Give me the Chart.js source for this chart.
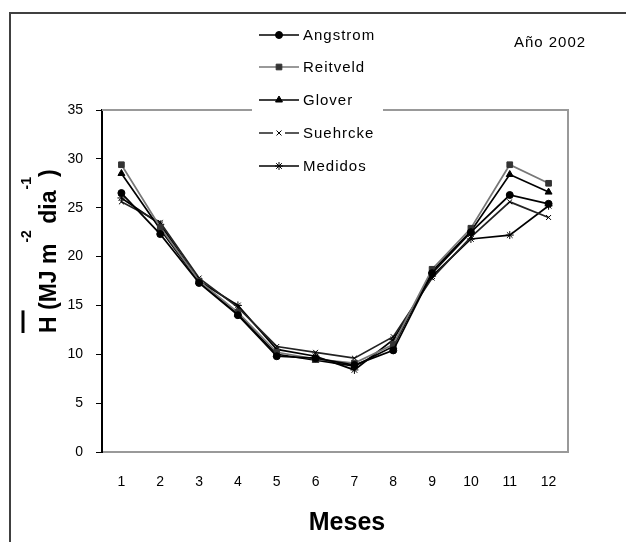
<!DOCTYPE html>
<html>
<head>
<meta charset="utf-8">
<script src="https://cdn.jsdelivr.net/npm/chart.js@4/dist/chart.umd.min.js"></script>
<style>
  html, body { margin: 0; padding: 0; background: #fff; }
  #wrap { width: 626px; height: 542px; }
</style>
</head>
<body>
<div id="wrap"><canvas id="chart" width="626" height="542"></canvas></div>
<script>
const meses = ["1", "2", "3", "4", "5", "6", "7", "8", "9", "10", "11", "12"];
const angstrom = [26.5, 22.3, 17.3, 14.0, 9.8, 9.6, 8.9, 10.4, 18.3, 22.5, 26.3, 25.4];
const reitveld = [29.4, 23.0, 17.5, 14.3, 10.2, 9.5, 9.1, 11.0, 18.7, 22.9, 29.4, 27.5];
const glover = [28.5, 22.8, 17.4, 14.1, 10.0, 9.4, 8.8, 10.8, 18.5, 22.6, 28.4, 26.6];
const suehrcke = [25.6, 23.5, 17.8, 14.8, 10.8, 10.2, 9.6, 11.8, 17.8, 22.0, 25.6, 24.0];
const medidos = [26.0, 23.3, 17.5, 15.0, 10.5, 9.8, 8.4, 11.5, 18.0, 21.8, 22.2, 25.2];
const yTicks = [0, 5, 10, 15, 20, 25, 30, 35];

const FONT = "'Liberation Sans', Arial, sans-serif";

function serie(label, data, color, lineColor, style, radius) {
  return {
    label, data,
    borderColor: lineColor,
    backgroundColor: color,
    pointBorderColor: color,
    pointBackgroundColor: color,
    pointStyle: style,
    pointRadius: radius,
    pointBorderWidth: 1,
    borderWidth: 1.7,
    tension: 0,
  };
}

const datasets = [
  serie("Angstrom", angstrom, "#000", "#000", "circle", 3.5),
  serie("Reitveld", reitveld, "#333", "#777", "rect", 4),
  serie("Glover", glover, "#000", "#000", "triangle", 4),
  serie("Suehrcke", suehrcke, "#000", "#222", "crossRot", 3.5),
  serie("Medidos", medidos, "#000", "#000", "star", 4),
];

// frame, plot borders, legend and axis titles drawn by hand
const decor = {
  id: "decor",
  afterDraw(chart) {
    const ctx = chart.ctx;
    const a = chart.chartArea;
    ctx.save();

    // outer frame (runs off the right and bottom edge)
    ctx.strokeStyle = "#404040";
    ctx.lineWidth = 2;
    ctx.beginPath();
    ctx.moveTo(10, 545);
    ctx.lineTo(10, 13);
    ctx.lineTo(630, 13);
    ctx.stroke();

    // plot area top and right border
    ctx.strokeStyle = "#999";
    ctx.lineWidth = 2;
    ctx.beginPath();
    ctx.moveTo(a.left, a.top);
    ctx.lineTo(a.right, a.top);
    ctx.lineTo(a.right, a.bottom);
    ctx.stroke();

    // legend
    ctx.fillStyle = "#fff";
    ctx.fillRect(252, 16, 131, 170);
    const rowY = [35, 67, 100, 133, 166];
    ctx.font = "15px " + FONT;
    ctx.letterSpacing = "1px";
    ctx.textBaseline = "middle";
    ctx.textAlign = "left";
    datasets.forEach((ds, i) => {
      const y = rowY[i];
      ctx.strokeStyle = ds.borderColor;
      ctx.lineWidth = 1.5;
      ctx.beginPath();
      if (ds.label === "Suehrcke") {
        ctx.moveTo(259, y); ctx.lineTo(273, y);
        ctx.moveTo(285, y); ctx.lineTo(299, y);
      } else {
        ctx.moveTo(259, y); ctx.lineTo(299, y);
      }
      ctx.stroke();
      ctx.fillStyle = ds.pointBackgroundColor;
      ctx.strokeStyle = ds.pointBorderColor;
      ctx.lineWidth = 1;
      Chart.helpers.drawPoint(ctx, {
        pointStyle: ds.pointStyle,
        radius: ds.pointRadius,
        borderWidth: 1,
        rotation: 0,
      }, 279, y);
      ctx.fillStyle = "#000";
      ctx.fillText(ds.label, 303, y + 1);
    });

    // year label
    ctx.textAlign = "center";
    ctx.fillText("Año 2002", 550, 43);
    ctx.letterSpacing = "0px";

    // x title
    ctx.font = "bold 25px " + FONT;
    ctx.textBaseline = "alphabetic";
    ctx.fillText("Meses", 347, 530);

    // y title, rotated, with overline and superscripts
    ctx.translate(56, 333);
    ctx.rotate(-Math.PI / 2);
    ctx.textAlign = "left";
    const parts = [
      ["H (MJ m", 0], ["-2", 1], [" dia", 0], ["-1", 1], [")", 0],
    ];
    let x = 0;
    parts.forEach(([t, sup]) => {
      ctx.font = sup ? "bold 14px " + FONT : "bold 23px " + FONT;
      ctx.fillText(t, x, sup ? -25 : 0);
      x += ctx.measureText(t).width + (sup ? 0 : 1);
    });
    ctx.font = "bold 23px " + FONT;
    const hw = ctx.measureText("H").width;
    ctx.lineWidth = 3;
    ctx.strokeStyle = "#000";
    ctx.beginPath();
    ctx.moveTo(0, -33);
    ctx.lineTo(hw + 6, -33);
    ctx.stroke();

    ctx.restore();
  },
};

new Chart(document.getElementById("chart"), {
  type: "line",
  data: { labels: meses, datasets },
  options: {
    responsive: false,
    animation: false,
    layout: { padding: { top: 110, right: 58, left: 0, bottom: 0 } },
    plugins: { legend: { display: false }, tooltip: { enabled: false } },
    scales: {
      x: {
        type: "category",
        offset: true,
        afterFit: (s) => { s.height = 90; },
        grid: { display: true, drawOnChartArea: false, drawTicks: false },
        border: { color: "#999", width: 2 },
        ticks: { color: "#000", padding: 22, font: { family: FONT, size: 14 } },
      },
      y: {
        min: 0,
        max: 35,
        afterFit: (s) => { s.width = 102; },
        afterBuildTicks: (s) => { s.ticks = yTicks.map((v) => ({ value: v })); },
        grid: { display: true, drawOnChartArea: false, drawTicks: true, tickLength: 6, color: "#000", lineWidth: 1 },
        border: { color: "#000", width: 2 },
        ticks: { color: "#000", padding: 13, font: { family: FONT, size: 14 } },
      },
    },
  },
  plugins: [decor],
});
</script>
</body>
</html>
